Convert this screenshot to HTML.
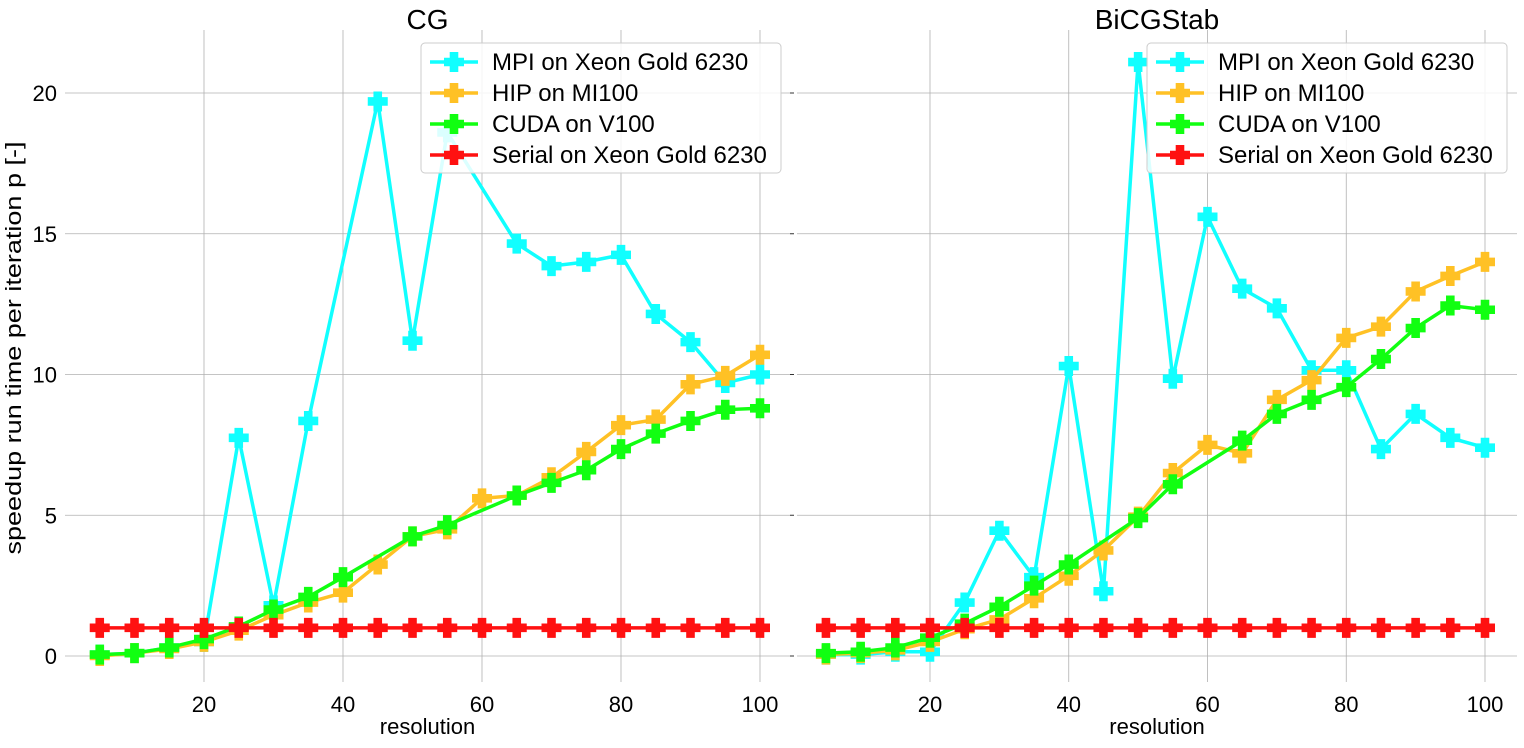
<!DOCTYPE html>
<html><head><meta charset="utf-8"><style>
body{margin:0;background:#fff;}
svg text{font-family:"Liberation Sans",sans-serif;fill:#000;}
</style></head><body>
<svg id="chart" width="1524" height="743"></svg>
<script>
const xs=[5,10,15,20,25,30,35,40,45,50,55,60,65,70,75,80,85,90,95,100];
const seriesNames=["MPI on Xeon Gold 6230","HIP on MI100","CUDA on V100","Serial on Xeon Gold 6230"];
const seriesColors=["#11ffff","#ffc125","#11ff11","#ff1111"];
const cgMPI=[0.05,0.1,0.3,0.5,7.75,1.8,8.35,null,19.7,11.2,18.6,null,14.65,13.85,14.0,14.25,12.15,11.15,9.7,10.0];
const cgHIP=[0,0.1,0.25,0.5,0.9,1.45,1.9,2.25,3.25,4.25,4.5,5.6,5.7,6.35,7.25,8.2,8.4,9.65,9.95,10.7];
const cgCUDA=[0.05,0.1,0.3,0.6,1.05,1.65,2.1,2.8,null,4.25,4.65,null,5.7,6.15,6.6,7.35,7.9,8.35,8.75,8.8];
const cgSerial=[1,1,1,1,1,1,1,1,1,1,1,1,1,1,1,1,1,1,1,1];
const biMPI=[0.05,0.05,0.15,0.15,1.9,4.45,2.8,10.3,2.3,21.1,9.85,15.6,13.05,12.35,10.15,10.15,7.35,8.6,7.75,7.4];
const biHIP=[0.05,0.1,0.2,0.5,0.95,1.3,2.05,2.85,3.75,4.95,6.5,7.5,7.2,9.1,9.8,11.3,11.7,12.95,13.5,14.0];
const biCUDA=[0.1,0.15,0.3,0.65,1.15,1.75,2.5,3.25,null,4.9,6.1,null,7.65,8.6,9.1,9.55,10.55,11.65,12.45,12.3];
const biSerial=[1,1,1,1,1,1,1,1,1,1,1,1,1,1,1,1,1,1,1,1];
const xTicks=[20,40,60,80,100];
const yTicks=[0,5,10,15,20];
const NS="http://www.w3.org/2000/svg";
const svg=document.getElementById("chart");
function el(t,a,p){const e=document.createElementNS(NS,t);for(const k in a)e.setAttribute(k,a[k]);(p||svg).appendChild(e);return e;}
const panels=[
 {name:"cg",title:"CG",x0:204,x1:760,left:65,right:790,data:[cgMPI,cgHIP,cgCUDA,cgSerial],lx:421,labels:true},
 {name:"bicgstab",title:"BiCGStab",x0:930,x1:1485,left:797,right:1517,data:[biMPI,biHIP,biCUDA,biSerial],lx:1147,labels:false}];
const plotTop=30,plotBottom=682,y0=656,y20=93;
function sy(v){return y0+(y20-y0)*v/20;}
function plus(g,cx,cy,c){
 const s=9.5,w=3.8;
 const p=el("path",{d:`M${cx-w},${cy-s}H${cx+w}V${cy-w}H${cx+s}V${cy+w}H${cx+w}V${cy+s}H${cx-w}V${cy+w}H${cx-s}V${cy-w}H${cx-w}Z`,fill:c,stroke:c,"stroke-width":1},g);
 
 
}
panels.forEach(P=>{
 const sx=v=>P.x0+(P.x1-P.x0)*(v-20)/80;
 const g=el("g",{});
 
 
 xTicks.forEach(t=>{
  const l=el("line",{x1:sx(t),x2:sx(t),y1:plotTop,y2:plotBottom,stroke:"#b0b0b0","stroke-width":0.8},g);
  
  
  const tx=el("text",{x:sx(t),y:712,"font-size":22,"text-anchor":"middle"},g);tx.textContent=t;
  
  
 });
 yTicks.forEach(t=>{
  const l=el("line",{x1:P.left,x2:P.right,y1:sy(t),y2:sy(t),stroke:"#b0b0b0","stroke-width":0.8},g);
  
  
  if(P.labels){
   const tx=el("text",{x:57,y:sy(t)+8,"font-size":22,"text-anchor":"end"},g);tx.textContent=t;
   
   
  } else {
   el("line",{x1:P.left-7,x2:P.left-3,y1:sy(t),y2:sy(t),stroke:"#333","stroke-width":1},g);
  }
 });
 const tt=el("text",{x:(P.left+P.right)/2,y:29,"font-size":28,"text-anchor":"middle"},g);tt.textContent=P.title;
 
 
 const xl=el("text",{x:(P.left+P.right)/2,y:734,"font-size":22,"text-anchor":"middle"},g);xl.textContent="resolution";
 
 
 P.data.forEach((arr,i)=>{
  const pts=[];arr.forEach((v,j)=>{if(v!==null)pts.push([sx(xs[j]),sy(v)]);});
  const pl=el("polyline",{points:pts.map(p=>p.join(",")).join(" "),fill:"none",stroke:seriesColors[i],"stroke-width":3.5},g);
  
  
  pts.forEach(p=>plus(g,p[0],p[1],seriesColors[i]));
 });
 const lg=el("g",{},g);
 
 
 el("rect",{x:P.lx,y:43,width:360,height:130,rx:4,fill:"rgba(255,255,255,0.85)",stroke:"#ccc"},lg);
 seriesNames.forEach((n,i)=>{
  const yy=62+i*31;
  el("line",{x1:P.lx+9,x2:P.lx+57,y1:yy,y2:yy,stroke:seriesColors[i],"stroke-width":3.5},lg);
  plus(lg,P.lx+33,yy,seriesColors[i]);
  const t=el("text",{x:P.lx+71,y:yy+8,"font-size":24},lg);t.textContent=n;
  
  
 });
});
const yl=el("text",{x:21,y:348,"font-size":22,"text-anchor":"middle",textLength:413,lengthAdjust:"spacingAndGlyphs",transform:"rotate(-90 21 348)"});
yl.textContent="speedup run time per iteration p [-]";


</script>
</body></html>
